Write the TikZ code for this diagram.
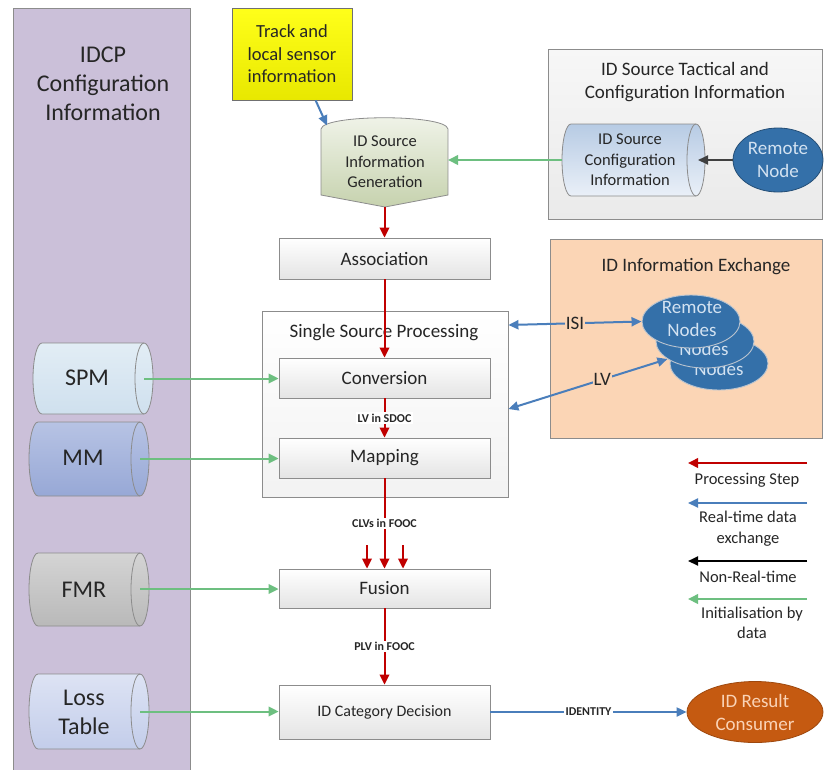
\documentclass[tikz,border=0pt]{standalone}
\usepackage{fontspec}
\setmainfont{Carlito}
\usetikzlibrary{arrows.meta,calc,shapes.geometric,shadows}

\definecolor{redarr}{HTML}{C00000}
\definecolor{bluearr}{HTML}{4A7EBB}
\definecolor{greenarr}{HTML}{6DBF80}
\definecolor{blackarr}{HTML}{404040}
\definecolor{frameline}{HTML}{8C8C8C}
\definecolor{panelfill}{HTML}{CBC0D9}
\definecolor{txt}{HTML}{262626}
\definecolor{boxgray}{HTML}{E4E4E4}
\definecolor{exchfill}{HTML}{FBD5B5}
\definecolor{tacttop}{HTML}{F7F7F7}
\definecolor{tactbot}{HTML}{EAEAEA}
\definecolor{nodeblue}{HTML}{3470A9}
\definecolor{nodetext}{HTML}{D3E2F1}
\definecolor{orangefill}{HTML}{C55A11}
\definecolor{orangetext}{HTML}{FAD3B6}
\definecolor{gentop}{HTML}{F1F4EA}
\definecolor{genbot}{HTML}{C6D2AE}
\definecolor{cfgtop}{HTML}{B7CBE4}
\definecolor{cfgbot}{HTML}{EAF0F8}
\definecolor{spmtop}{HTML}{E2EDF5}
\definecolor{spmbot}{HTML}{CFE0EE}
\definecolor{mmtop}{HTML}{B7C3E4}
\definecolor{mmbot}{HTML}{97A8D6}
\definecolor{fmrtop}{HTML}{D4D4D4}
\definecolor{fmrbot}{HTML}{B9B9B9}
\definecolor{losstop}{HTML}{DDE3F4}
\definecolor{lossbot}{HTML}{C3CDEA}
\definecolor{yeltop}{HTML}{FFFF1A}
\definecolor{yelbot}{HTML}{E8E800}

% horizontal cylinder: left end centre x, right end centre x, top y, bottom y, end radius, fill options
\newcommand\hcyl[6]{%
  \pgfmathsetmacro\cym{(#3+#4)/2}%
  \pgfmathsetmacro\cyk{0.5523*(#4-#3)/2}%
  \pgfmathsetmacro\cyq{0.5523*#5}%
  \path[draw=frameline, line width=0.8pt, #6]
    (#1,#3) -- (#2,#3)
    .. controls (#2+\cyq,#3) and (#2+#5,\cym-\cyk) .. (#2+#5,\cym)
    .. controls (#2+#5,\cym+\cyk) and (#2+\cyq,#4) .. (#2,#4)
    -- (#1,#4)
    .. controls (#1-\cyq,#4) and (#1-#5,\cym+\cyk) .. (#1-#5,\cym)
    .. controls (#1-#5,\cym-\cyk) and (#1-\cyq,#3) .. (#1,#3) -- cycle;
  \draw[frameline, line width=0.8pt] (#2,#3)
    .. controls (#2-\cyq,#3) and (#2-#5,\cym-\cyk) .. (#2-#5,\cym)
    .. controls (#2-#5,\cym+\cyk) and (#2-\cyq,#4) .. (#2,#4);
}

\tikzset{
  every node/.style={text=txt},
  f24/.style={font=\fontsize{24}{29}\selectfont},
  f19/.style={font=\fontsize{19}{23}\selectfont},
  f18/.style={font=\fontsize{18.5}{22.5}\selectfont},
  f165/.style={font=\fontsize{16.5}{20.5}\selectfont},
  f16/.style={font=\fontsize{16}{20}\selectfont},
  fsmall/.style={font=\bfseries\fontsize{12}{14}\selectfont},
  anchorbox/.style={inner sep=0pt, outer sep=0pt},
  procbox/.style={draw=frameline, line width=0.8pt, top color=white, bottom color=boxgray,
    minimum width=211pt, inner sep=0pt, f19,
    drop shadow={shadow xshift=1.2pt, shadow yshift=-1.2pt, opacity=0.25}},
  groupbox/.style={draw=frameline, line width=0.8pt, inner sep=0pt},
  bluenode/.style={ellipse, draw=nodetext!70!gray, line width=0.9pt, fill=nodeblue,
    inner sep=0pt, minimum width=98pt, minimum height=53pt},
  bluetext/.style={text=nodetext, f19, align=center, inner sep=0pt},
  redflow/.style={draw=redarr, line width=2pt, -{Triangle[length=10pt,width=9.5pt]}},
  blueflow/.style={draw=bluearr, line width=2pt, -{Triangle[length=10pt,width=9pt]}},
  bluetwo/.style={draw=bluearr, line width=2pt,
    {Triangle[length=10pt,width=9pt]}-{Triangle[length=10pt,width=9pt]}},
  greenflow/.style={draw=greenarr, line width=2pt, -{Triangle[length=10pt,width=9.5pt]}},
  blackflow/.style={draw=blackarr, line width=2pt, -{Triangle[length=10pt,width=9pt]}},
  flowlbl/.style={fsmall, fill=white, inner sep=1.5pt},
}

\begin{document}
\begin{tikzpicture}[x=1pt,y=-1pt]
\useasboundingbox (0,0) rectangle (824,769);
\fill[white] (0,0) rectangle (824,769);

% ---------- left configuration panel ----------
\node[groupbox, fill=panelfill, minimum width=177pt, minimum height=766pt] (idcp) at (101.5,391) {};
\node[f24, align=center] (idcp-t) at (103,84) {IDCP\\Configuration\\Information};

% configuration data stores
\hcyl{42}{144}{343}{414}{9}{top color=spmtop, bottom color=spmbot}
\node[anchorbox, minimum width=102pt, minimum height=71pt] (spm) at (93,378.5) {};
\node[f24] (spm-t) at (87,378) {SPM};

\hcyl{38}{140}{422}{496}{9}{top color=mmtop, bottom color=mmbot}
\node[anchorbox, minimum width=102pt, minimum height=74pt] (mm) at (89,458.5) {};
\node[f24] (mm-t) at (83,458) {MM};

\hcyl{38}{140}{553}{626}{9}{top color=fmrtop, bottom color=fmrbot}
\node[anchorbox, minimum width=102pt, minimum height=73pt] (fmr) at (89,589) {};
\node[f24] (fmr-t) at (84,589.5) {FMR};

\hcyl{38}{140}{674}{749}{9}{top color=losstop, bottom color=lossbot}
\node[anchorbox, minimum width=102pt, minimum height=75pt] (loss) at (89,711.5) {};
\node[f24, align=center] (loss-t) at (84,712) {Loss\\Table};

% ---------- track input ----------
\node[draw=frameline!80!black, line width=0.8pt, top color=yeltop, bottom color=yelbot,
  minimum width=120pt, minimum height=92pt, inner sep=0pt, f18, align=center] (track) at (292,54)
  {Track and\\local sensor\\information};

% ---------- ID source information generation ----------
\path[draw=frameline, line width=0.8pt, top color=gentop, bottom color=genbot]
  (321,129) .. controls (323,114) and (446,114) .. (448,129)
  -- (448,195) -- (385,207) -- (321,195) -- cycle;
\node[anchorbox, minimum width=127pt, minimum height=89pt] (gen) at (384.5,162) {};
\node[f165, align=center] (gen-t) at (385,162) {ID Source\\Information\\Generation};

% ---------- tactical and configuration group ----------
\node[groupbox, top color=tacttop, bottom color=tactbot, minimum width=274pt, minimum height=170pt] (tact) at (685,134) {};
\node[f19, align=center] (tact-t) at (685,82) {ID Source Tactical and\\Configuration Information};
\hcyl{571}{696}{124}{196}{9}{top color=cfgtop, bottom color=cfgbot}
\node[anchorbox, minimum width=125pt, minimum height=72pt] (cfg) at (633.5,160) {};
\node[f165, align=center] (cfg-t) at (630,160) {ID Source\\Configuration\\Information};
\node[ellipse, draw=nodeblue!70!black, line width=0.8pt, fill=nodeblue, text=nodetext, f19, align=center,
  inner sep=0pt, minimum width=90pt, minimum height=64pt] (remote) at (778,160) {Remote\\Node};

% ---------- exchange group ----------
\node[groupbox, fill=exchfill, minimum width=272pt, minimum height=199pt] (exch) at (686,338.5) {};
\node[f19] (exch-t) at (696,267) {ID Information Exchange};
% stacked remote nodes, back to front; the front one hides the tops of the others
\node[bluenode] (e3) at (719,363.5) {};
\node[bluetext] (e3-t) at (719,369) {Nodes};
\node[bluenode] (e2) at (705,341.5) {};
\node[bluetext] (e2-t) at (704,349) {Nodes};
\node[bluenode] (e1) at (691,321.5) {};
\node[bluetext] (e1-t) at (692,319) {Remote\\Nodes};

% ---------- processing chain ----------
\node[procbox, minimum height=41pt] (assoc) at (384.5,258.5) {Association};

\node[groupbox, top color=white, bottom color=tactbot!60!white, minimum width=246pt, minimum height=186pt,
  drop shadow={shadow xshift=1.2pt, shadow yshift=-1.2pt, opacity=0.25}] (ssp) at (385,404) {};
\node[f19] (ssp-t) at (384,333) {Single Source Processing};
\node[procbox, minimum height=40pt] (conv) at (384.5,378) {Conversion};
\node[procbox, minimum height=40pt] (map) at (384.5,458) {Mapping};

\node[procbox, minimum height=39pt] (fusion) at (384.5,588.5) {Fusion};
\node[procbox, minimum height=54pt, f16] (dec) at (384.5,712) {ID Category Decision};

\node[ellipse, draw=orangefill!80!black, line width=0.8pt, fill=orangefill, text=orangetext, f19, align=center,
  inner sep=0pt, minimum width=136pt, minimum height=61pt] (consumer) at (755,712) {ID Result\\Consumer};

% ---------- connectors ----------
\draw[blueflow] (track.-63) -- ($(gen.north west)+(6,8)$);
\draw[greenflow] ([xshift=-9pt]cfg.west) -- ([yshift=2pt]gen.east);
\draw[blackflow] (remote.west) -- ([xshift=2pt]cfg.east);

\draw[redflow] (gen.south) -- (assoc.north);
\draw[redflow] (assoc.south) -- (conv.north);
\draw[redflow] (conv.south) -- node[flowlbl] (lbl-sdoc) {LV in SDOC} (map.north);
\draw[redflow] (map.south) -- node[flowlbl, pos=0.5] (lbl-clv) {CLVs in FOOC} (fusion.north);
\coordinate (fin-l) at (367,545);
\coordinate (fin-r) at (403,545);
\draw[redflow] (fin-l) -- (fin-l |- fusion.north);
\draw[redflow] (fin-r) -- (fin-r |- fusion.north);
\draw[redflow] (fusion.south) -- node[flowlbl] (lbl-plv) {PLV in FOOC} (dec.north);

\draw[bluetwo] ([yshift=79pt]ssp.east) -- node[f19, fill=exchfill, inner sep=1pt, pos=0.5] (lbl-isi) {ISI} (e1.west);
\draw[bluetwo] ([yshift=-5pt]ssp.east) -- node[f19, fill=exchfill, inner sep=1pt, pos=0.59] (lbl-lv) {LV} (e2.205);
\draw[blueflow] (dec.east) -- node[flowlbl] (lbl-id) {IDENTITY} (consumer.west);

\draw[greenflow] (spm.east) -- (spm.east -| conv.west);
\draw[greenflow] (mm.east) -- (mm.east -| map.west);
\draw[greenflow] (fmr.east) -- (fmr.east -| fusion.west);
\draw[greenflow] (loss.east) -- (loss.east -| dec.west);

% ---------- legend ----------
\coordinate (lg1a) at (807,463); \coordinate (lg1b) at (688,463);
\coordinate (lg2a) at (807,503); \coordinate (lg2b) at (688,503);
\coordinate (lg3a) at (807,561); \coordinate (lg3b) at (688,561);
\coordinate (lg4a) at (807,599); \coordinate (lg4b) at (688,599);
\draw[redflow] (lg1a) -- (lg1b);
\draw[blueflow] (lg2a) -- (lg2b);
\draw[blackflow, draw=black] (lg3a) -- (lg3b);
\draw[greenflow] (lg4a) -- (lg4b);
\node[f165] (lg1-t) at (747,480) {Processing Step};
\node[f165, align=center] (lg2-t) at (748,528.5) {Real-time data\\exchange};
\node[f165] (lg3-t) at (748,577) {Non-Real-time};
\node[f165, align=center] (lg4-t) at (752,623) {Initialisation by\\data};
\end{tikzpicture}
\end{document}
